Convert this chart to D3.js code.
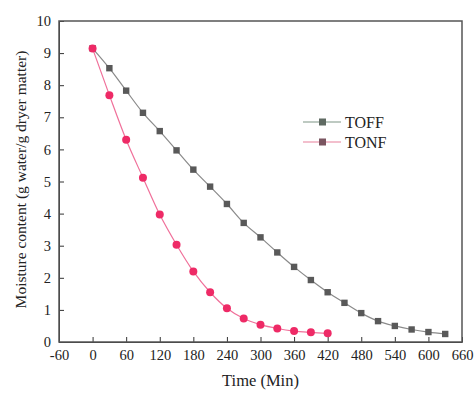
<!DOCTYPE html>
<html>
<head>
<meta charset="utf-8">
<script src="https://cdn.jsdelivr.net/npm/d3@7"></script>
<style>
  body { margin: 0; background: #fff; }
  svg { display: block; font-family: "Liberation Serif", "Times New Roman", serif; }
</style>
</head>
<body>
<div id="chart"></div>
<script>
var times = [0, 30, 60, 90, 120, 150, 180, 210, 240, 270, 300, 330, 360, 390, 420,
    450, 480, 510, 540, 570, 600, 630];
var toff = [9.15, 8.53, 7.83, 7.14, 6.57, 5.97, 5.37, 4.84, 4.30, 3.71, 3.26, 2.79,
    2.34, 1.93, 1.55, 1.22, 0.90, 0.65, 0.50, 0.39, 0.31, 0.25];
var tonf = [9.14, 7.69, 6.30, 5.12, 3.97, 3.03, 2.20, 1.55, 1.05, 0.73, 0.54, 0.42,
    0.34, 0.30, 0.27];
var xTicks = [-60, 0, 60, 120, 180, 240, 300, 360, 420, 480, 540, 600, 660];
var yTicks = [0, 1, 2, 3, 4, 5, 6, 7, 8, 9, 10];

var width = 476, height = 394;
var margin = { top: 21, right: 14, bottom: 52, left: 59 };
var w = width - margin.left - margin.right,
    h = height - margin.top - margin.bottom;

var svg = d3.select("#chart").append("svg")
    .attr("width", width)
    .attr("height", height);

var g = svg.append("g")
    .attr("transform", "translate(" + margin.left + "," + margin.top + ")");

var x = d3.scaleLinear().domain([-60, 660]).range([0, w]);
var y = d3.scaleLinear().domain([0, 10]).range([h, 0]);

var plain = function (d) { return String(d); };

// axes, ticks pointing inward
var xAxis = g.append("g")
    .attr("transform", "translate(0," + h + ")")
    .call(d3.axisBottom(x).tickValues(xTicks).tickFormat(plain)
        .tickSizeInner(-5).tickSizeOuter(0).tickPadding(8));
var yAxis = g.append("g")
    .call(d3.axisLeft(y).tickValues(yTicks).tickFormat(plain)
        .tickSizeInner(-5).tickSizeOuter(0).tickPadding(8));

[xAxis, yAxis].forEach(function (a) {
    a.selectAll("text").style("font-size", "14.5px").style("font-family", "Liberation Serif").attr("fill", "#222");
    a.selectAll("line").attr("stroke", "#333");
    a.select(".domain").attr("stroke", "#333");
});

// frame
g.append("rect")
    .attr("width", w).attr("height", h)
    .attr("fill", "none")
    .attr("stroke", "#555")
    .attr("stroke-width", 1.5);

var line = d3.line()
    .x(function (d) { return x(d[0]); })
    .y(function (d) { return y(d[1]); })
    .curve(d3.curveMonotoneX);

var toffData = toff.map(function (v, i) { return [times[i], v]; });
var tonfData = tonf.map(function (v, i) { return [times[i], v]; });

g.append("path").datum(toffData)
    .attr("d", line)
    .attr("fill", "none")
    .attr("stroke", "#8a8a8a")
    .attr("stroke-width", 1.2);

g.selectAll(".sq").data(toffData).enter().append("rect")
    .attr("class", "sq")
    .attr("x", function (d) { return x(d[0]) - 3.2; })
    .attr("y", function (d) { return y(d[1]) - 3.2; })
    .attr("width", 6.4).attr("height", 6.4)
    .attr("fill", "#595959");

g.append("path").datum(tonfData)
    .attr("d", line)
    .attr("fill", "none")
    .attr("stroke", "#f0709a")
    .attr("stroke-width", 1.2);

g.selectAll(".dot").data(tonfData).enter().append("circle")
    .attr("class", "dot")
    .attr("cx", function (d) { return x(d[0]); })
    .attr("cy", function (d) { return y(d[1]); })
    .attr("r", 4)
    .attr("fill", "#ee2a66");

// legend
var legend = svg.append("g").attr("transform", "translate(303,122)");
var items = [
    { name: "TOFF", line: "#7f9585", mark: "#5f6a62" },
    { name: "TONF", line: "#e8809c", mark: "#7a5560" }
];
items.forEach(function (it, i) {
    var lg = legend.append("g").attr("transform", "translate(0," + (i * 20) + ")");
    lg.append("line").attr("x1", 0).attr("x2", 38).attr("y1", 0).attr("y2", 0)
        .attr("stroke", it.line).attr("stroke-width", 1.2);
    lg.append("rect").attr("x", 16).attr("y", -3.5).attr("width", 7).attr("height", 7)
        .attr("fill", it.mark);
    lg.append("text").attr("x", 42).attr("y", 5.5)
        .style("font-size", "16px").attr("fill", "#222").text(it.name);
});

// axis titles
svg.append("text")
    .attr("x", margin.left + x(300))
    .attr("y", 386)
    .attr("text-anchor", "middle")
    .style("font-size", "16.5px").attr("fill", "#222")
    .text("Time (Min)");

svg.append("text")
    .attr("transform", "translate(26," + (margin.top + h / 2 - 2) + ") rotate(-90)")
    .attr("text-anchor", "middle")
    .style("font-size", "15.5px").attr("fill", "#222")
    .text("Moisture content (g water/g dryer matter)");
</script>
</body>
</html>
